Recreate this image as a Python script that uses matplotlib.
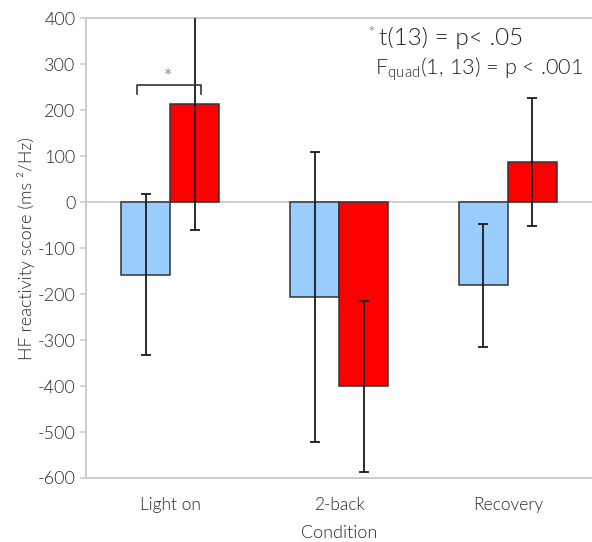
import matplotlib
matplotlib.use("Agg")
import matplotlib.pyplot as plt
import numpy as np

plt.rcParams['font.family'] = ['Lato', 'DejaVu Sans']
plt.rcParams['font.weight'] = 300
plt.rcParams['axes.labelweight'] = 300

conditions = ["Light on", "2-back", "Recovery"]
blue_vals = [-158, -206, -181]
blue_err = [175, 315, 133]
red_vals = [213, -400, 87]
red_err = [273, 186, 139]
yticks = [400, 300, 200, 100, 0, -100, -200, -300, -400, -500, -600]

fig = plt.figure(figsize=(5.92, 5.42), dpi=100)
ax = fig.add_axes([0.1453, 0.1181, 0.855, 0.8478])

x = np.arange(len(conditions))
w = 0.29
ekw = dict(ecolor="#1a1a1a", elinewidth=1.3, capsize=3.8, capthick=1.3)
ax.bar(x - w/2, blue_vals, w, color="#99CCFF", edgecolor="#333333", linewidth=1.1,
       yerr=blue_err, error_kw=ekw, zorder=3)
ax.bar(x + w/2, red_vals, w, color="#FF0000", edgecolor="#333333", linewidth=1.1,
       yerr=red_err, error_kw=ekw, zorder=3)

ax.axhline(0, color="#cccccc", lw=1.3, zorder=1)
ax.set_xlim(-0.5, 2.5)
ax.set_ylim(-600, 400)
ax.set_yticks(yticks)
ax.set_yticklabels([str(v) for v in yticks])
ax.set_xticks(x)
ax.set_xticklabels(conditions)

for s in ["left", "bottom", "top"]:
    ax.spines[s].set_color("#c8c8c8")
    ax.spines[s].set_linewidth(1.3)
ax.spines["right"].set_visible(False)
ax.tick_params(axis="y", direction="out", length=4.5, width=1.1, color="#c8c8c8",
               labelsize=13, labelcolor="#2a2a2a", pad=3)
ax.tick_params(axis="x", length=0, labelsize=12.5, labelcolor="#2a2a2a", pad=14)

ax.set_ylabel("HF reactivity score (ms ²/Hz)", fontsize=13, color="#2a2a2a", labelpad=2)
ax.set_xlabel("Condition", fontsize=13, color="#2a2a2a", labelpad=8)

# significance bracket
bx0, bx1 = x[0] - 0.2, x[0] + 0.18
ax.plot([bx0, bx0, bx1, bx1], [236, 255, 255, 236], color="#333333", lw=1.2,
        zorder=4, clip_on=False)
ax.text((bx0 + bx1) / 2 - 0.01, 254, "*", ha="center", va="baseline", fontsize=17,
        color="#666666")

fig.text(0.621, 0.937, "*", fontsize=13, color="#666666", ha="left", va="center")
fig.text(0.641, 0.93, "t(13) = p< .05", fontsize=17.5, color="#222222", ha="left",
         va="center")
fig.text(0.633, 0.873, r"F$_{\mathregular{quad}}$(1, 13) = p < .001", fontsize=15.6,
         color="#222222", ha="left", va="center")

fig.savefig("out.png", dpi=100)
